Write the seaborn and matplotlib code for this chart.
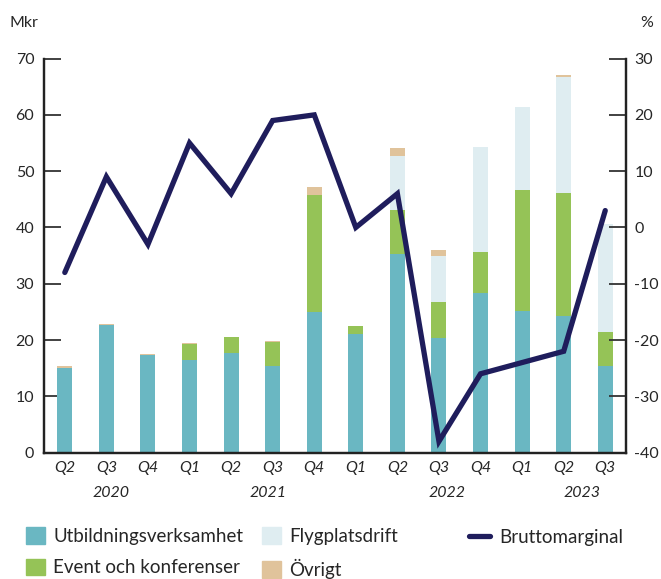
import numpy as np
import pandas as pd
import seaborn as sns
import matplotlib.pyplot as plt
from matplotlib.patches import Patch
from matplotlib.lines import Line2D

quarters = ['Q2', 'Q3', 'Q4', 'Q1', 'Q2', 'Q3', 'Q4', 'Q1', 'Q2', 'Q3', 'Q4', 'Q1', 'Q2', 'Q3']
years = ['2020', '2021', '2022', '2023']
year_pos = [1.1, 4.9, 9.2, 12.45]

utbildning = [15.0, 22.7, 17.3, 16.5, 17.7, 15.4, 24.9, 21.1, 35.3, 20.4, 28.3, 25.2, 24.3, 15.4]
event = [0.0, 0.0, 0.0, 2.8, 2.8, 4.3, 20.9, 1.4, 7.8, 6.4, 7.3, 21.4, 21.8, 6.0]
flygplats = [0.0, 0.0, 0.0, 0.0, 0.0, 0.0, 0.0, 0.0, 9.6, 8.1, 18.7, 14.8, 20.6, 19.2]
ovrigt = [0.4, 0.2, 0.2, 0.2, 0.0, 0.2, 1.4, 0.0, 1.4, 1.1, 0.0, 0.0, 0.4, 0.0]
bruttomarginal = [-8, 9, -3, 15, 6, 19, 20, 0, 6, -38, -26, -24, -22, 3]

colors = {'Utbildningsverksamhet': '#6ab7c2', 'Event och konferenser': '#95c357',
          'Flygplatsdrift': '#dfedf1', 'Övrigt': '#e0c39b'}
line_color = '#1f1d5c'

sns.set_style('white')
plt.rcParams['font.family'] = ['Lato', 'DejaVu Sans']
plt.rcParams['axes.unicode_minus'] = False

df = pd.DataFrame({'pos': range(len(quarters)), 'Utbildningsverksamhet': utbildning,
                   'Event och konferenser': event, 'Flygplatsdrift': flygplats,
                   'Övrigt': ovrigt, 'Bruttomarginal': bruttomarginal})
layers = ['Utbildningsverksamhet', 'Event och konferenser', 'Flygplatsdrift', 'Övrigt']
cum = df[layers].cumsum(axis=1)

fig = plt.figure(figsize=(6.61, 5.79), dpi=100)
ax = fig.add_axes([0.0666, 0.2183, 0.8805, 0.6805])

# stacked bars: draw cumulative totals, tallest first
for layer in reversed(layers):
    sns.barplot(x=df['pos'], y=cum[layer], color=colors[layer], width=0.36,
                saturation=1, ax=ax, native_scale=True, linewidth=0)

ax.set_xlim(-0.5, len(quarters) - 0.5)
ax.set_ylim(0, 70)
ax.set_yticks(range(0, 71, 10))
ax.set_xlabel('')
ax.set_ylabel('')
ax.set_xticks(range(len(quarters)))
ax.set_xticklabels(quarters, style='italic', fontsize=11.5)
ax.set_xticks(np.arange(-0.5, len(quarters), 1), minor=True)
ax.tick_params(axis='x', which='major', length=0, pad=6)
ax.tick_params(axis='x', which='minor', direction='in', length=8, width=1.3, color='#222222')
ax.tick_params(axis='y', direction='in', length=12, width=1.3, color='#333333',
               labelsize=11.5, pad=7)

ax2 = ax.twinx()
sns.lineplot(x=df['pos'], y=df['Bruttomarginal'], color=line_color, linewidth=3.8,
             ax=ax2, solid_joinstyle='miter')
ax2.set_ylim(-40, 30)
ax2.set_yticks(range(-40, 31, 10))
ax2.set_ylabel('')
ax2.tick_params(axis='y', direction='in', length=12, width=1.3, color='#333333',
                labelsize=11.5, pad=6)

for a in (ax, ax2):
    a.spines['top'].set_visible(False)
    for s in ('left', 'right', 'bottom'):
        a.spines[s].set_linewidth(1.6)
        a.spines[s].set_color('#222222')

for yr, p in zip(years, year_pos):
    ax.text(p, -0.085, yr, transform=ax.get_xaxis_transform(), ha='center', va='top',
            style='italic', fontsize=11.5)

fig.text(0.015, 0.96, 'Mkr', fontsize=11.5, ha='left', va='center')
fig.text(0.968, 0.96, '%', fontsize=11.5, ha='left', va='center')

bar_handles = [Patch(color=colors['Utbildningsverksamhet']), Patch(color=colors['Event och konferenser']),
               Patch(color=colors['Flygplatsdrift']), Patch(color=colors['Övrigt'])]
bar_labels = ['Utbildningsverksamhet', 'Event och konferenser', 'Flygplatsdrift', 'Övrigt']
fig.legend(bar_handles, bar_labels, ncol=2, loc='center left', bbox_to_anchor=(0.025, 0.045),
           frameon=False, fontsize=13.5, handlelength=1.0, handleheight=1.0,
           handletextpad=0.45, columnspacing=1.0, labelspacing=0.72, borderpad=0)
fig.legend([Line2D([], [], color=line_color, linewidth=3.8, solid_capstyle='round')], ['Bruttomarginal'],
           loc='center left', bbox_to_anchor=(0.695, 0.0725), frameon=False, fontsize=13.5,
           handlelength=1.15, handletextpad=0.45, borderpad=0)

fig.savefig('out.png', dpi=100)
